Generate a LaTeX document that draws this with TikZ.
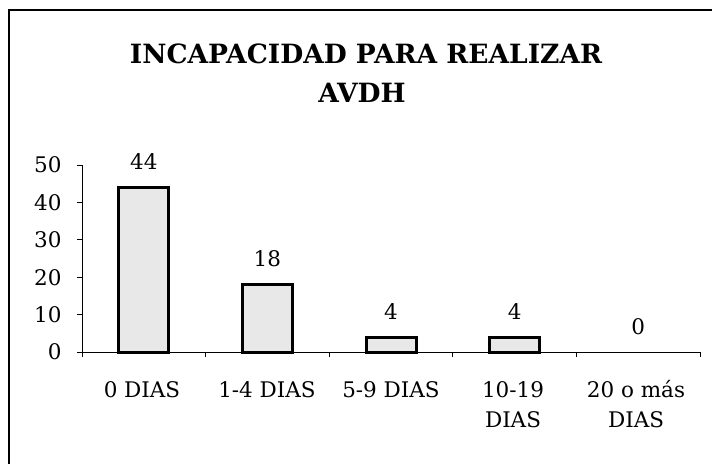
\documentclass[tikz,border=0pt]{standalone}
\usepackage{fontspec}
\setmainfont{DejaVu Serif}

\begin{document}
\begin{tikzpicture}[x=1pt, y=-1pt,
    bar/.style={draw=black, line width=3pt, fill=black!9},
    axis/.style={line width=0.9pt},
    num/.style={font=\fontsize{21.5}{25}\selectfont},
    ttl/.style={font=\fontsize{26.5}{30}\selectfont\bfseries, anchor=base}]

    \useasboundingbox (0,0) rectangle (712,464);

    % Frame (only top and left edges show)
    \draw[line width=1.6pt] (9,464) -- (9,10) -- (712,10);

    % Title
    \node[ttl] (title1) at (366,63) {INCAPACIDAD PARA REALIZAR};
    \node[ttl] (title2) at (362,102) {AVDH};

    % Axes
    \draw[axis] (82,165) -- (82,352) -- (700,352);
    \foreach \v in {0,10,...,50} {
      \draw[axis] (77,{352-3.74*\v}) -- (82,{352-3.74*\v});
      \node[num, anchor=east] (y\v) at (65,{352-3.74*\v}) {\v};
    }
    \foreach \k in {0,...,5}
      \draw[axis] ({82+123.6*\k},352) -- ({82+123.6*\k},357);

    % Bars
    \foreach \i/\v in {0/44,1/18,2/4,3/4}
      \draw[bar] ({143.8+123.6*\i-25},352) rectangle ({143.8+123.6*\i+25},{352-3.74*\v});

    % Values above the bars
    \foreach \i/\v in {0/44,1/18,2/4,3/4,4/0}
      \node[num, anchor=base] (val\i) at ({143.8+123.6*\i},{352-3.74*\v-18}) {\v};

    % Categories
    \node[num, anchor=base] (cat0) at (142,397) {0 DIAS};
    \node[num, anchor=base] (cat1) at (267,397) {1-4 DIAS};
    \node[num, anchor=base] (cat2) at (391,397) {5-9 DIAS};
    \node[num, anchor=base] (cat3) at (513,397) {10-19};
    \node[num, anchor=base] (cat3b) at (513,427) {DIAS};
    \node[num, anchor=base] (cat4) at (636,397) {20 o más};
    \node[num, anchor=base] (cat4b) at (636,427) {DIAS};
\end{tikzpicture}
\end{document}
